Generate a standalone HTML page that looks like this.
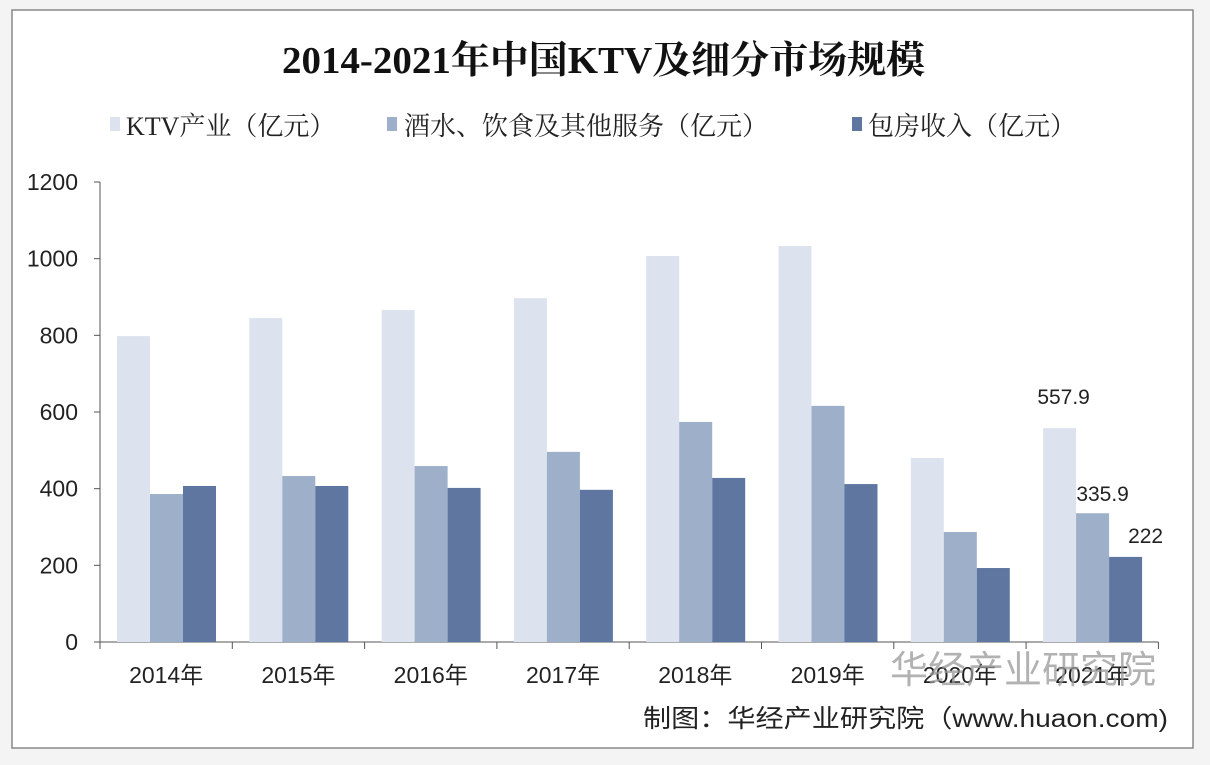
<!DOCTYPE html>
<html><head><meta charset="utf-8"><style>
body{margin:0;background:#f4f4f4;width:1210px;height:760px;overflow:hidden}
.sans{font-family:"Liberation Sans","Noto Sans CJK SC",sans-serif}
.serif{font-family:"Liberation Serif","Noto Serif CJK SC",serif}
</style></head><body>
<svg id="c" width="1210" height="760">
<rect x="12" y="10" width="1181" height="738" fill="#fff" stroke="#888" stroke-width="1.5"/>
<text x="282" y="73" font-size="38" font-weight="bold" class="serif" fill="#111" textLength="643" lengthAdjust="spacingAndGlyphs">2014-2021年中国KTV及细分市场规模</text>
<g class="serif">
<rect x="110" y="117" width="10" height="14" fill="#dde3ee"/>
<text x="126" y="135" font-size="26" fill="#222">KTV产业（亿元）</text>
<rect x="387" y="117" width="10" height="14" fill="#9dafc9"/>
<text x="404" y="135" font-size="26" fill="#222">酒水、饮食及其他服务（亿元）</text>
<rect x="852" y="117" width="10" height="14" fill="#5f77a0"/>
<text x="868" y="135" font-size="26" fill="#222">包房收入（亿元）</text>
</g>
<g id="axes" class="sans"></g>
<g id="bars" class="sans"></g>
<text x="890" y="683" font-size="38" fill="#999" opacity="0.75" class="sans">华经产业研究院</text>
<text x="643" y="727" font-size="25" fill="#222" class="sans" textLength="525" lengthAdjust="spacingAndGlyphs">制图：华经产业研究院（www.huaon.com)</text>
</svg>
<script>
const categories=["2014年","2015年","2016年","2017年","2018年","2019年","2020年","2021年"];
const ktv=[798,845,866,897,1007,1033,480,557.9];
const drinks=[386,433,459,496,574,616,287,335.9];
const rooms=[407,407,402,397,428,412,193,222];
const yTicks=[0,200,400,600,800,1000,1200];
const labels2021=["557.9","335.9","222"];
const NS="http://www.w3.org/2000/svg";
const x0=100,x1=1158.4,y0=642,yTop=182,yMax=1200;
const band=(x1-x0)/categories.length;
function y(v){return y0-(v/yMax)*(y0-yTop);}
function bx(i){return x0+i*band;}
function mk(tag,attrs,parent){const e=document.createElementNS(NS,tag);for(const k in attrs)e.setAttribute(k,attrs[k]);parent.appendChild(e);return e;}
const ax=document.getElementById('axes'),bg=document.getElementById('bars');
let l=mk('line',{x1:x0,y1:yTop,x2:x0,y2:y0,stroke:'#555','stroke-width':1},ax);


l=mk('line',{x1:x0,y1:y0,x2:x1,y2:y0,stroke:'#555','stroke-width':1},ax);


yTicks.forEach(t=>{
 const tk=mk('line',{x1:x0-6,y1:y(t),x2:x0,y2:y(t),stroke:'#555'},ax);
 
 
 const tx=mk('text',{x:x0-22,y:y(t)+8,'text-anchor':'end','font-size':23,fill:'#222'},ax);
 tx.textContent=t;
 
 
});
for(let i=0;i<=categories.length;i++){
 const tk=mk('line',{x1:bx(i),y1:y0,x2:bx(i),y2:y0+7,stroke:'#555'},ax);
 
 
}
const series=[[ktv,'#dde3ee','bar-ktv'],[drinks,'#9dafc9','bar-drinks'],[rooms,'#5f77a0','bar-rooms']];
const bw=33,off=17;
categories.forEach((c,i)=>{
 const tx=mk('text',{x:bx(i)+band/2,y:y0+41,'text-anchor':'middle','font-size':23,fill:'#222'},ax);
 tx.textContent=c;
 
 
 series.forEach((s,j)=>{
  const v=s[0][i];
  const r=mk('rect',{x:bx(i)+off+j*bw,y:y(v),width:bw,height:y0-y(v),fill:s[1]},bg);
  
  
 });
});
const li=categories.length-1;
const dx=[4,10,20],dy=[24,12,14];
series.forEach((s,j)=>{
 const t=mk('text',{x:bx(li)+off+j*bw+bw/2+dx[j],y:y(s[0][li])-dy[j],'text-anchor':'middle','font-size':21,fill:'#222'},bg);
 t.textContent=labels2021[j];
 
 
});
</script>
</body></html>
